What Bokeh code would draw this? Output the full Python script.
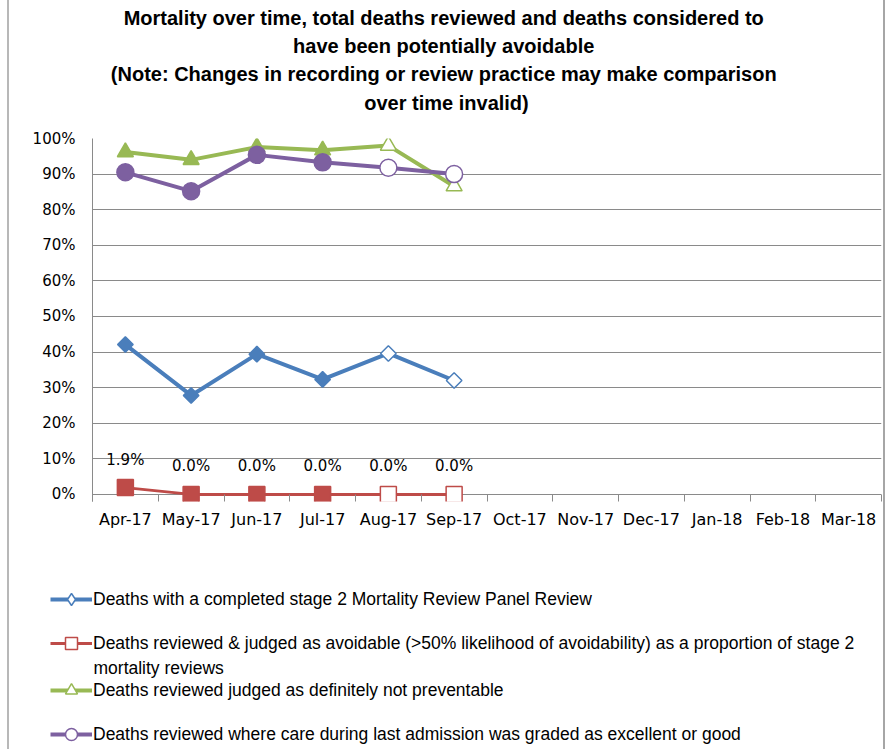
import math
from bokeh.plotting import figure
from bokeh.models import (ColumnDataSource, Range1d, FixedTicker, PrintfTickFormatter,
                          Label, LabelSet, Legend, LegendItem)
from bokeh.layouts import column, row
from bokeh.core.properties import value
from bokeh.embed import file_html
from bokeh.resources import INLINE

# ---------------- data ----------------
months = ["Apr-17", "May-17", "Jun-17", "Jul-17", "Aug-17", "Sep-17",
          "Oct-17", "Nov-17", "Dec-17", "Jan-18", "Feb-18", "Mar-18"]
provisional = [False, False, False, False, True, True]
stage2_reviewed = [42.1, 27.8, 39.4, 32.3, 39.6, 32.0]
avoidable = [1.9, 0.0, 0.0, 0.0, 0.0, 0.0]
not_preventable = [96.2, 94.0, 97.6, 96.7, 98.0, 86.6]
care_good = [90.5, 85.2, 95.4, 93.3, 91.8, 90.0]
y_ticks = list(range(0, 101, 10))

series_names = [
    "Deaths with a completed stage 2 Mortality Review Panel Review",
    "Deaths reviewed & judged as avoidable (>50% likelihood of avoidability) as a proportion of stage 2",
    "Deaths reviewed judged as definitely not preventable",
    "Deaths reviewed where care during last admission was graded as excellent or good",
]
series_name_continuation = "mortality reviews"
title_text = ("Mortality over time, total deaths reviewed and  deaths considered to\n"
              "have  been potentially avoidable\n"
              "(Note: Changes in recording or review practice may make  comparison\n"
              "over time invalid)")

# ---------------- styles ----------------
colors = ["#4A7EBB", "#BE4B48", "#98B954", "#7D60A0"]
markers = ["square", "square", "triangle", "circle"]
legend_markers = ["diamond", "square", "triangle", "circle"]
angles = [math.pi / 4, 0, 0, 0]
sizes = [11, 16, 16, 17]
widths = [4, 3, 4, 4]
grid_color = "#8A8A8A"
tick_font = "DejaVu Sans"
text_font = "Liberation Sans"
W = 887
LEFT, RIGHT = 92, 6


def prep(fig):
    try:
        fig.frame_align = False
    except Exception:
        pass
    fig.border_fill_alpha = 0
    fig.outline_line_color = None


# ---------------- title panel ----------------
tp = figure(width=W, height=126, x_range=Range1d(0, 1), y_range=Range1d(0, 1),
            output_backend="svg", toolbar_location=None,
            min_border_left=0, min_border_right=0, min_border_top=0, min_border_bottom=0,
            x_axis_location=None, y_axis_location=None)
tp.grid.visible = False
tp.background_fill_alpha = 0
prep(tp)
tp.add_layout(Label(x=446, y=120, x_units="screen", y_units="screen", text=title_text,
                    text_align="center", text_baseline="top", text_font=text_font,
                    text_font_size="20px", text_font_style="bold", text_line_height=1.29,
                    text_color="#000000"))

# ---------------- main chart ----------------
n = len(months)
p = figure(width=W, height=427,
           x_range=Range1d(-0.5, n - 0.5), y_range=Range1d(-2, 100),
           output_backend="svg", toolbar_location=None,
           min_border_left=LEFT, min_border_right=RIGHT, min_border_top=12, min_border_bottom=52)
p.background_fill_color = "white"
prep(p)

p.xaxis.ticker = FixedTicker(ticks=list(range(n)), minor_ticks=[i - 0.5 for i in range(n + 1)])
p.xaxis.major_label_overrides = {i: m for i, m in enumerate(months)}
p.xaxis.major_tick_in = 0
p.xaxis.major_tick_out = 0
p.xaxis.minor_tick_in = 7
p.xaxis.minor_tick_out = 0
p.xaxis.minor_tick_line_color = grid_color
p.xaxis.axis_line_color = None
p.xaxis.major_label_standoff = 8
p.xaxis.major_label_text_font_size = "16px"
p.xgrid.visible = False

p.yaxis.ticker = FixedTicker(ticks=y_ticks)
p.yaxis.formatter = PrintfTickFormatter(format="%d%%")
p.yaxis.major_tick_in = 0
p.yaxis.major_tick_out = 0
p.yaxis.minor_tick_line_color = None
p.yaxis.axis_line_color = grid_color
p.yaxis.major_label_standoff = 17
p.yaxis.major_label_text_font_size = "15px"
p.ygrid.ticker = FixedTicker(ticks=y_ticks)
p.ygrid.grid_line_color = grid_color

for ax in (p.xaxis, p.yaxis):
    ax.major_label_text_font = tick_font
    ax.major_label_text_color = "#000000"

all_series = [stage2_reviewed, avoidable, not_preventable, care_good]
xs = list(range(len(stage2_reviewed)))
for vals, c, m, a, s, w in zip(all_series, colors, markers, angles, sizes, widths):
    fills = ["white" if pv else c for pv in provisional]
    src = ColumnDataSource(dict(x=xs, y=vals, fill=fills))
    p.line("x", "y", source=src, line_color=c, line_width=w)
    p.scatter("x", "y", source=src, marker=m, angle=a, size=s,
              fill_color="fill", line_color=c, line_width=1.5)

lab_src = ColumnDataSource(dict(x=xs, y=avoidable, label=[f"{v:.1f}%" for v in avoidable]))
p.add_layout(LabelSet(x="x", y="y", text="label", source=lab_src, y_offset=28,
                      text_align="center", text_baseline="middle",
                      text_font=value(tick_font), text_font_size="15px", text_color="#000000"))

# ---------------- legend panel ----------------
lg = figure(width=W, height=196, x_range=Range1d(0, 1), y_range=Range1d(0, 1),
            output_backend="svg", toolbar_location=None,
            min_border_left=0, min_border_right=0, min_border_top=0, min_border_bottom=0,
            x_axis_location=None, y_axis_location=None)
lg.grid.visible = False
lg.background_fill_alpha = 0
prep(lg)

legend_bottoms = [135, 91, 44, 0]
for name, c, m, w, yb in zip(series_names, colors, legend_markers, widths, legend_bottoms):
    lr = lg.line(x=[-5], y=[-5], line_color=c, line_width=w)
    sr = lg.scatter(x=[-5], y=[-5], marker=m, size=10,
                    fill_color="white", line_color=c, line_width=1.5)
    leg = Legend(items=[LegendItem(label=name, renderers=[lr, sr])], location=(50, yb),
                 padding=0, margin=0, spacing=0, glyph_width=42, glyph_height=30,
                 label_height=30, label_standoff=1, border_line_color=None,
                 background_fill_alpha=0, label_text_font=text_font,
                 label_text_font_size="17.5px", label_text_color="#000000")
    lg.add_layout(leg)

lg.add_layout(Label(x=93, y=82, x_units="screen", y_units="screen", text=series_name_continuation,
                    text_baseline="middle", text_font=text_font, text_font_size="17.5px",
                    text_color="#000000"))

page_frame = ("linear-gradient(to right, transparent 7px, #b8b8b8 7px, #b8b8b8 8.5px, transparent 8.5px), "
              "linear-gradient(to left, transparent 2px, #a6a6a6 2px, #a6a6a6 4px, transparent 4px), "
              "#ffffff")
layout = column(row(tp), p, row(lg), spacing=0, styles={"background": page_frame})
open("out.html", "w").write(file_html(layout, INLINE))
